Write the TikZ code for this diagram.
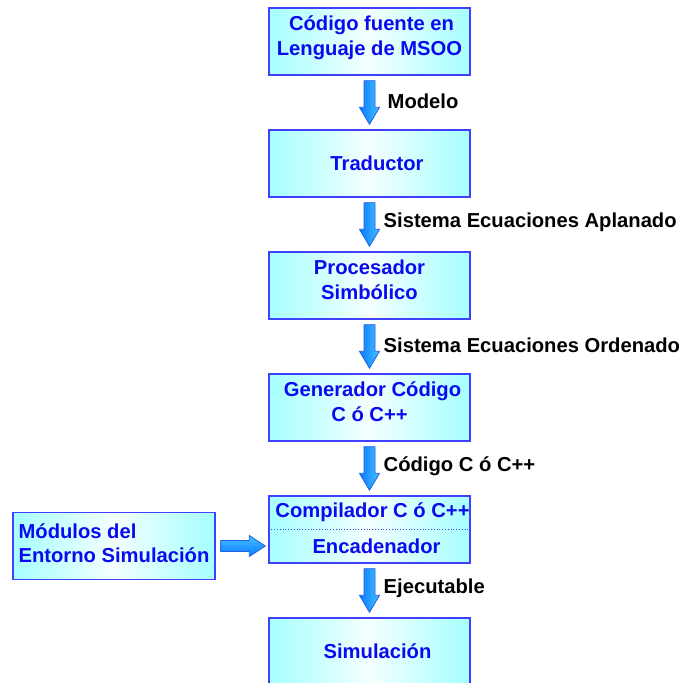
\documentclass[tikz,border=0pt]{standalone}
\usepackage{fontspec}
\setmainfont{Liberation Sans}
\usetikzlibrary{calc}
\definecolor{boxedge}{HTML}{4040FF}
\definecolor{boxtext}{HTML}{0A0AF0}
\definecolor{boxside}{HTML}{A6FFFF}
\definecolor{boxmid}{HTML}{F4FFFF}
\definecolor{arrowdark}{HTML}{0A78FF}
\definecolor{arrowlight}{HTML}{45C2FF}
\definecolor{arrowedge}{HTML}{2060E0}
\tikzset{
  stagebox/.style={draw=boxedge, line width=1.4pt, left color=boxside, right color=boxside,
    middle color=boxmid, minimum width=201pt, minimum height=67pt, inner sep=0pt,
    text=boxtext, font=\fontsize{20.2}{24.5}\selectfont\bfseries, align=center},
  boxlabel/.style={text=boxtext, font=\fontsize{20.2}{24.5}\selectfont\bfseries, inner sep=0pt},
  flowlabel/.style={text=black, font=\fontsize{20.2}{24}\selectfont\bfseries, anchor=west, inner sep=0pt},
  blockarrow/.style={draw=arrowedge, line width=0.8pt, left color=arrowdark, right color=arrowlight},
}
% vertical block arrow from the bottom of #1 to the top of #2
\newcommand\blkdown[2]{%
  \path[blockarrow] ($(#1.south)+(-5.5,5)$) -- ($(#1.south)+(5.5,5)$)
    -- ($(#2.north)+(5.5,-22)$) -- ($(#2.north)+(10,-22)$) -- ($(#2.north)+(0,-5)$)
    -- ($(#2.north)+(-10,-22)$) -- ($(#2.north)+(-5.5,-22)$) -- cycle;}
\begin{document}
\begin{tikzpicture}[x=1pt,y=-1pt]
\useasboundingbox (0,0) rectangle (686,683);

\node[stagebox, text depth=12pt] (src) at (369.5,41.5) {\hspace*{4pt}Código fuente en\\Lenguaje de MSOO};
\node[stagebox] (trad) at (369.5,163.5) {\hspace*{15pt}Traductor};
\node[stagebox, text depth=12pt] (proc) at (369.5,285.5) {Procesador\\Simbólico};
\node[stagebox, text depth=12pt] (gen) at (369.5,407.5) {\hspace*{6pt}Generador Código\\C ó C++};
\node[stagebox] (comp) at (369.5,529.5) {};
\node[stagebox] (sim) at (369.5,651.5) {\hspace*{16pt}Simulación};
\node[stagebox, minimum width=202pt, align=left, text depth=6pt] (mods) at (114,546) {Módulos del\\Entorno Simulación};

% two stages inside the compile/link box
\draw[boxedge, dotted, line width=0.8pt] ($(comp.west)+(3,0)$) -- ($(comp.east)+(-3,0)$);
\node[boxlabel] (compl) at ($(comp.center)+(3,-17)$) {Compilador C ó C++};
\node[boxlabel] (enc) at ($(comp.center)+(7,17)$) {Encadenador};

% flow arrows
\blkdown{src}{trad}
\blkdown{trad}{proc}
\blkdown{proc}{gen}
\blkdown{gen}{comp}
\blkdown{comp}{sim}

% side arrow from the environment modules into the linker
\coordinate (tip) at ($(comp.west |- mods.east)+(-3,0)$);
\path[blockarrow, top color=arrowlight, bottom color=arrowdark]
  ($(mods.east)+(5,-5.5)$) -- ($(tip)+(-16,-5.5)$) -- ($(tip)+(-16,-10.5)$) -- (tip)
  -- ($(tip)+(-16,10.5)$) -- ($(tip)+(-16,5.5)$) -- ($(mods.east)+(5,5.5)$) -- cycle;

% arrow labels
\node[flowlabel] (l1) at ($(src.south)!0.5!(trad.north)+(18,-1.5)$) {Modelo};
\node[flowlabel] (l2) at ($(trad.south)!0.5!(proc.north)+(14,-2.5)$) {Sistema Ecuaciones Aplanado};
\node[flowlabel] (l3) at ($(proc.south)!0.5!(gen.north)+(14,-1.5)$) {Sistema Ecuaciones Ordenado};
\node[flowlabel] (l4) at ($(gen.south)!0.5!(comp.north)+(14,-2.5)$) {Código C ó C++};
\node[flowlabel] (l5) at ($(comp.south)!0.5!(sim.north)+(14,-2.5)$) {Ejecutable};
\end{tikzpicture}
\end{document}
